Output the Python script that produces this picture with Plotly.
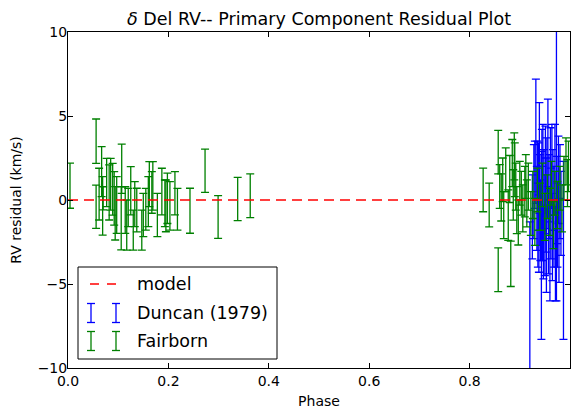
import plotly.graph_objects as go

# Duncan (1979) residuals: phase, residual (km/s), error
duncan_phase = [0.920, 0.925, 0.928, 0.930, 0.932, 0.934, 0.935, 0.936, 0.937, 0.938,
                0.939, 0.940, 0.941, 0.943, 0.944, 0.945, 0.946, 0.947, 0.948, 0.950,
                0.951, 0.952, 0.953, 0.954, 0.956, 0.957, 0.958, 0.960, 0.961, 0.962,
                0.964, 0.965, 0.966, 0.968, 0.970, 0.971, 0.973, 0.974, 0.975, 0.977,
                0.978, 0.980, 0.982, 0.987]
duncan_resid = [-6.5, -1.0, 0.5, 1.5, 3.5, -0.5, 2.0, -1.5, 0.8, -2.0,
                2.5, 0.0, -1.2, -2.7, 1.2, -0.8, 2.0, -2.5, 0.5, -1.5,
                1.8, -0.3, -3.0, 1.0, 2.8, -1.8, 0.2, -3.0, 1.5, -0.8,
                2.0, -2.2, 0.6, -1.0, 1.8, -3.2, 2.5, 0.0, -1.5, 1.2,
                -2.4, 0.5, -0.8, -3.0]
duncan_err = [5.2, 2.5, 2.8, 2.0, 3.7, 2.5, 1.5, 2.5, 2.6, 2.3,
              3.3, 2.7, 2.4, 5.6, 3.0, 2.8, 2.5, 2.2, 2.5, 3.0,
              2.6, 2.8, 2.5, 2.7, 3.2, 2.6, 2.5, 3.0, 2.8, 2.7,
              2.5, 2.6, 2.4, 3.0, 2.7, 2.8, 8.5, 2.6, 2.5, 2.6,
              2.5, 2.8, 2.5, 5.3]

# Fairborn residuals
fair_phase = [0.004, 0.056, 0.056, 0.062, 0.067, 0.069, 0.070, 0.077, 0.082, 0.085,
              0.089, 0.092, 0.094, 0.097, 0.107, 0.106, 0.114, 0.117, 0.120, 0.125,
              0.130, 0.133, 0.137, 0.147, 0.150, 0.155, 0.160, 0.162, 0.167, 0.169,
              0.178, 0.187, 0.193, 0.195, 0.198, 0.203, 0.213, 0.218, 0.243, 0.273,
              0.299, 0.338, 0.363,
              0.827, 0.839, 0.857, 0.857, 0.860, 0.863, 0.866, 0.868, 0.872, 0.877,
              0.880, 0.882, 0.885, 0.887, 0.889, 0.890, 0.892, 0.894, 0.897, 0.900,
              0.903, 0.906, 0.910, 0.912, 0.914, 0.917, 0.922, 0.926, 0.930, 0.935,
              0.940, 0.945, 0.950, 0.955, 0.960, 0.963, 0.967, 0.970, 0.975, 0.980,
              0.984, 0.988, 0.992, 0.995, 0.997]
fair_resid = [0.85, 3.5, -0.4, 0.35, 1.69, -0.35, 0.1, 1.04, 0.45, 0.94,
              0.64, 0.1, -0.79, -0.3, 1.86, -1.09, -0.6, -1.49, -0.45, 0.55,
              -1.79, -0.25, -0.6, -1.79, -0.89, -0.55, -0.1, 0.94, 0.45, 0.84,
              -0.89, 0.5, -0.2, -0.35, 0.1, -0.35, 0.4, -0.55, -0.64, 1.74,
              -1.01, 0.06, 0.25,
              0.6, -0.3, 2.85, -4.15, 0.8, 0.15, 1.2, -0.9, 1.8, -0.9,
              1.25, -3.8, 2.2, 0.3, 2.6, 1.8, 0.8, -0.6, -1.34, 1.0,
              0.4, -0.5, 0.5, 1.4, -0.2, 0.8, -0.8, 0.3, -1.3, 0.6,
              -0.4, 0.9, -1.0, 0.2, -0.7, 1.0, -1.5, 0.4, -0.3, 0.7,
              -0.5, 1.3, 2.3, 1.0, 2.0]
fair_err = [1.34, 1.32, 1.29, 1.54, 1.49, 1.74, 0.69, 1.44, 1.64, 1.54,
            1.54, 1.59, 1.59, 1.69, 1.47, 1.88, 1.39, 1.49, 1.14, 1.44,
            1.19, 1.34, 1.3, 1.19, 1.29, 1.24, 1.49, 1.34, 1.24, 1.44,
            1.29, 1.39, 1.39, 1.54, 1.5, 1.44, 1.29, 1.24, 1.34, 1.29,
            1.27, 1.29, 1.3,
            1.3, 1.3, 1.3, 1.3, 1.3, 1.4, 1.3, 1.4, 1.3, 1.5,
            1.4, 1.35, 1.4, 1.5, 1.4, 1.6, 1.4, 1.4, 1.34, 1.3,
            1.3, 1.4, 1.5, 1.3, 1.4, 1.4, 1.3, 1.4, 1.4, 1.3,
            1.4, 1.3, 1.4, 1.3, 1.4, 1.3, 1.4, 1.3, 1.4, 1.3,
            1.4, 1.3, 1.4, 1.4, 1.5]

model_phase = [0.0, 1.0]
model_resid = [0.0, 0.0]

x_ticks = [0.0, 0.2, 0.4, 0.6, 0.8, 1.0]
x_ticktext = ["0.0", "0.2", "0.4", "0.6", "0.8", "1.0"]
y_ticks = [-10, -5, 0, 5, 10]
y_ticktext = ["\u221210", "\u22125", "0", "5", "10"]

# page is 579x411, but the html body keeps its default 8px margin
W, H = 579, 411
OFF = 8
L, R, T, B = 68, 570, 32, 368  # plot area in page pixels


def px_x(x):
    return (x - L) / (R - L)


def px_y(y):
    return (B - y) / (B - T)


fig = go.Figure()

fig.add_trace(go.Scatter(
    x=duncan_phase, y=duncan_resid, mode="markers",
    marker=dict(size=1, color="#0000ff", opacity=0),
    error_y=dict(type="data", array=duncan_err, color="#0000ff", thickness=1.3, width=4),
    name="Duncan (1979)",
))
fig.add_trace(go.Scatter(
    x=fair_phase, y=fair_resid, mode="markers",
    marker=dict(size=1, color="#008000", opacity=0),
    error_y=dict(type="data", array=fair_err, color="#008000", thickness=1.3, width=4),
    name="Fairborn",
))
fig.add_trace(go.Scatter(
    x=model_phase, y=model_resid, mode="lines",
    line=dict(color="#ff0000", width=1.5, dash="10px,6px"),
    name="model",
))

# legend drawn by hand (matplotlib style)
shapes = [dict(type="rect", xref="paper", yref="paper",
               x0=px_x(78), x1=px_x(277), y0=px_y(359), y1=px_y(267),
               line=dict(color="black", width=1), fillcolor="white", layer="above")]
shapes.append(dict(type="line", xref="paper", yref="paper",
                   x0=px_x(90), x1=px_x(117), y0=px_y(284), y1=px_y(284),
                   line=dict(color="#ff0000", width=1.5, dash="9px,8px"), layer="above"))
for yc, col in [(313, "#0000ff"), (341, "#008000")]:
    for xc in (91, 116):
        shapes.append(dict(type="line", xref="paper", yref="paper",
                           x0=px_x(xc), x1=px_x(xc), y0=px_y(yc - 9.5), y1=px_y(yc + 9.5),
                           line=dict(color=col, width=1.3), layer="above"))
        for yy in (yc - 9.5, yc + 9.5):
            shapes.append(dict(type="line", xref="paper", yref="paper",
                               x0=px_x(xc - 4), x1=px_x(xc + 4), y0=px_y(yy), y1=px_y(yy),
                               line=dict(color=col, width=1.3), layer="above"))

annotations = []
for yc, txt in [(284, "model"), (313, "Duncan (1979)"), (341, "Fairborn")]:
    annotations.append(dict(text=txt, xref="paper", yref="paper", x=px_x(135), y=px_y(yc),
                            xanchor="left", yanchor="middle", showarrow=False,
                            font=dict(size=17.5, color="black")))

fig.update_layout(
    width=W - OFF, height=H - OFF,
    margin=dict(l=L - OFF, r=W - R, t=T - OFF, b=H - B, autoexpand=False),
    paper_bgcolor="white", plot_bgcolor="white",
    showlegend=False,
    font=dict(family="DejaVu Sans", size=14, color="black"),
    title=dict(text="<i>δ</i> Del RV-- Primary Component Residual Plot",
               x=0.5, xref="paper", y=1 - 11 / (H - OFF), yref="container",
               xanchor="center", yanchor="middle", font=dict(size=17.5)),
    shapes=shapes,
    annotations=annotations,
)
fig.update_xaxes(range=[0, 1], tickvals=x_ticks, ticktext=x_ticktext,
                 ticks="inside", ticklen=5, tickcolor="black",
                 showline=True, linecolor="black", linewidth=1, mirror="ticks",
                 showgrid=False, zeroline=False, automargin=False,
                 title=dict(text="Phase", standoff=8, font=dict(size=14)))
fig.update_yaxes(range=[-10, 10], tickvals=y_ticks, ticktext=y_ticktext,
                 ticks="inside", ticklen=5, tickcolor="black",
                 showline=True, linecolor="black", linewidth=1, mirror="ticks",
                 showgrid=False, zeroline=False, automargin=False,
                 ticklabelstandoff=-3,
                 title=dict(text="RV residual (km/s)", standoff=20, font=dict(size=14)))

fig.write_html("out.html")
